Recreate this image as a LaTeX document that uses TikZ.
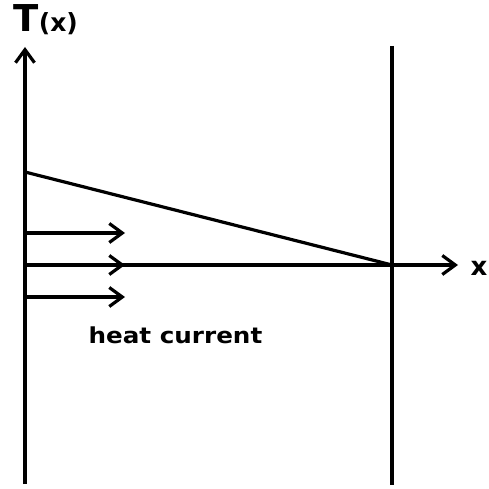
\documentclass[tikz,border=0pt]{standalone}
\usepackage{fontspec}
\setmainfont{DejaVu Sans}
\usetikzlibrary{arrows.meta,positioning}

\begin{document}
\begin{tikzpicture}[x=1pt, y=-1pt, line width=3.2pt,
    >={Straight Barb[length=13pt, width=19pt]}]
            \useasboundingbox (0,0) rectangle (489,489);

            % Axes
            \coordinate (o) at (25,265);
            \coordinate (ybot) at (25,484);
            \coordinate (ytop) at (25,47);
            \coordinate (xend) at (458,265);
            \draw[->] (ybot) -- (ytop);
            \draw[->] (o) -- (xend);

            % Wall at the right
            \coordinate (wtop) at (392,46);
            \coordinate (wbot) at (392,485);
            \coordinate (wbase) at (392,265);
            \draw (wtop) -- (wbot);

            % Temperature profile
            \coordinate (t0) at (25,172);
            \draw (t0) -- (wbase);

            % Heat current arrows
            \foreach \y [count=\i] in {233,265,297} {
                \coordinate (hs\i) at (25,\y);
                \coordinate (he\i) at (125,\y);
                \draw[->] (hs\i) -- (he\i);
            }

            % Labels
            \node[anchor=base west, inner sep=0pt] (tlabel) at (12,32)
                {\bfseries\fontsize{37}{37}\selectfont T\fontsize{25}{25}\selectfont(x)};
            \node[anchor=base west, inner sep=0pt] (xlabel) at (469,275)
                {\fontsize{26}{26}\selectfont\bfseries x};
            \node[anchor=base west, inner sep=0pt] (heat) at (87,343)
                {\scalebox{1.12}[1]{\bfseries\fontsize{22}{22}\selectfont heat current}};
        \end{tikzpicture}
\end{document}
